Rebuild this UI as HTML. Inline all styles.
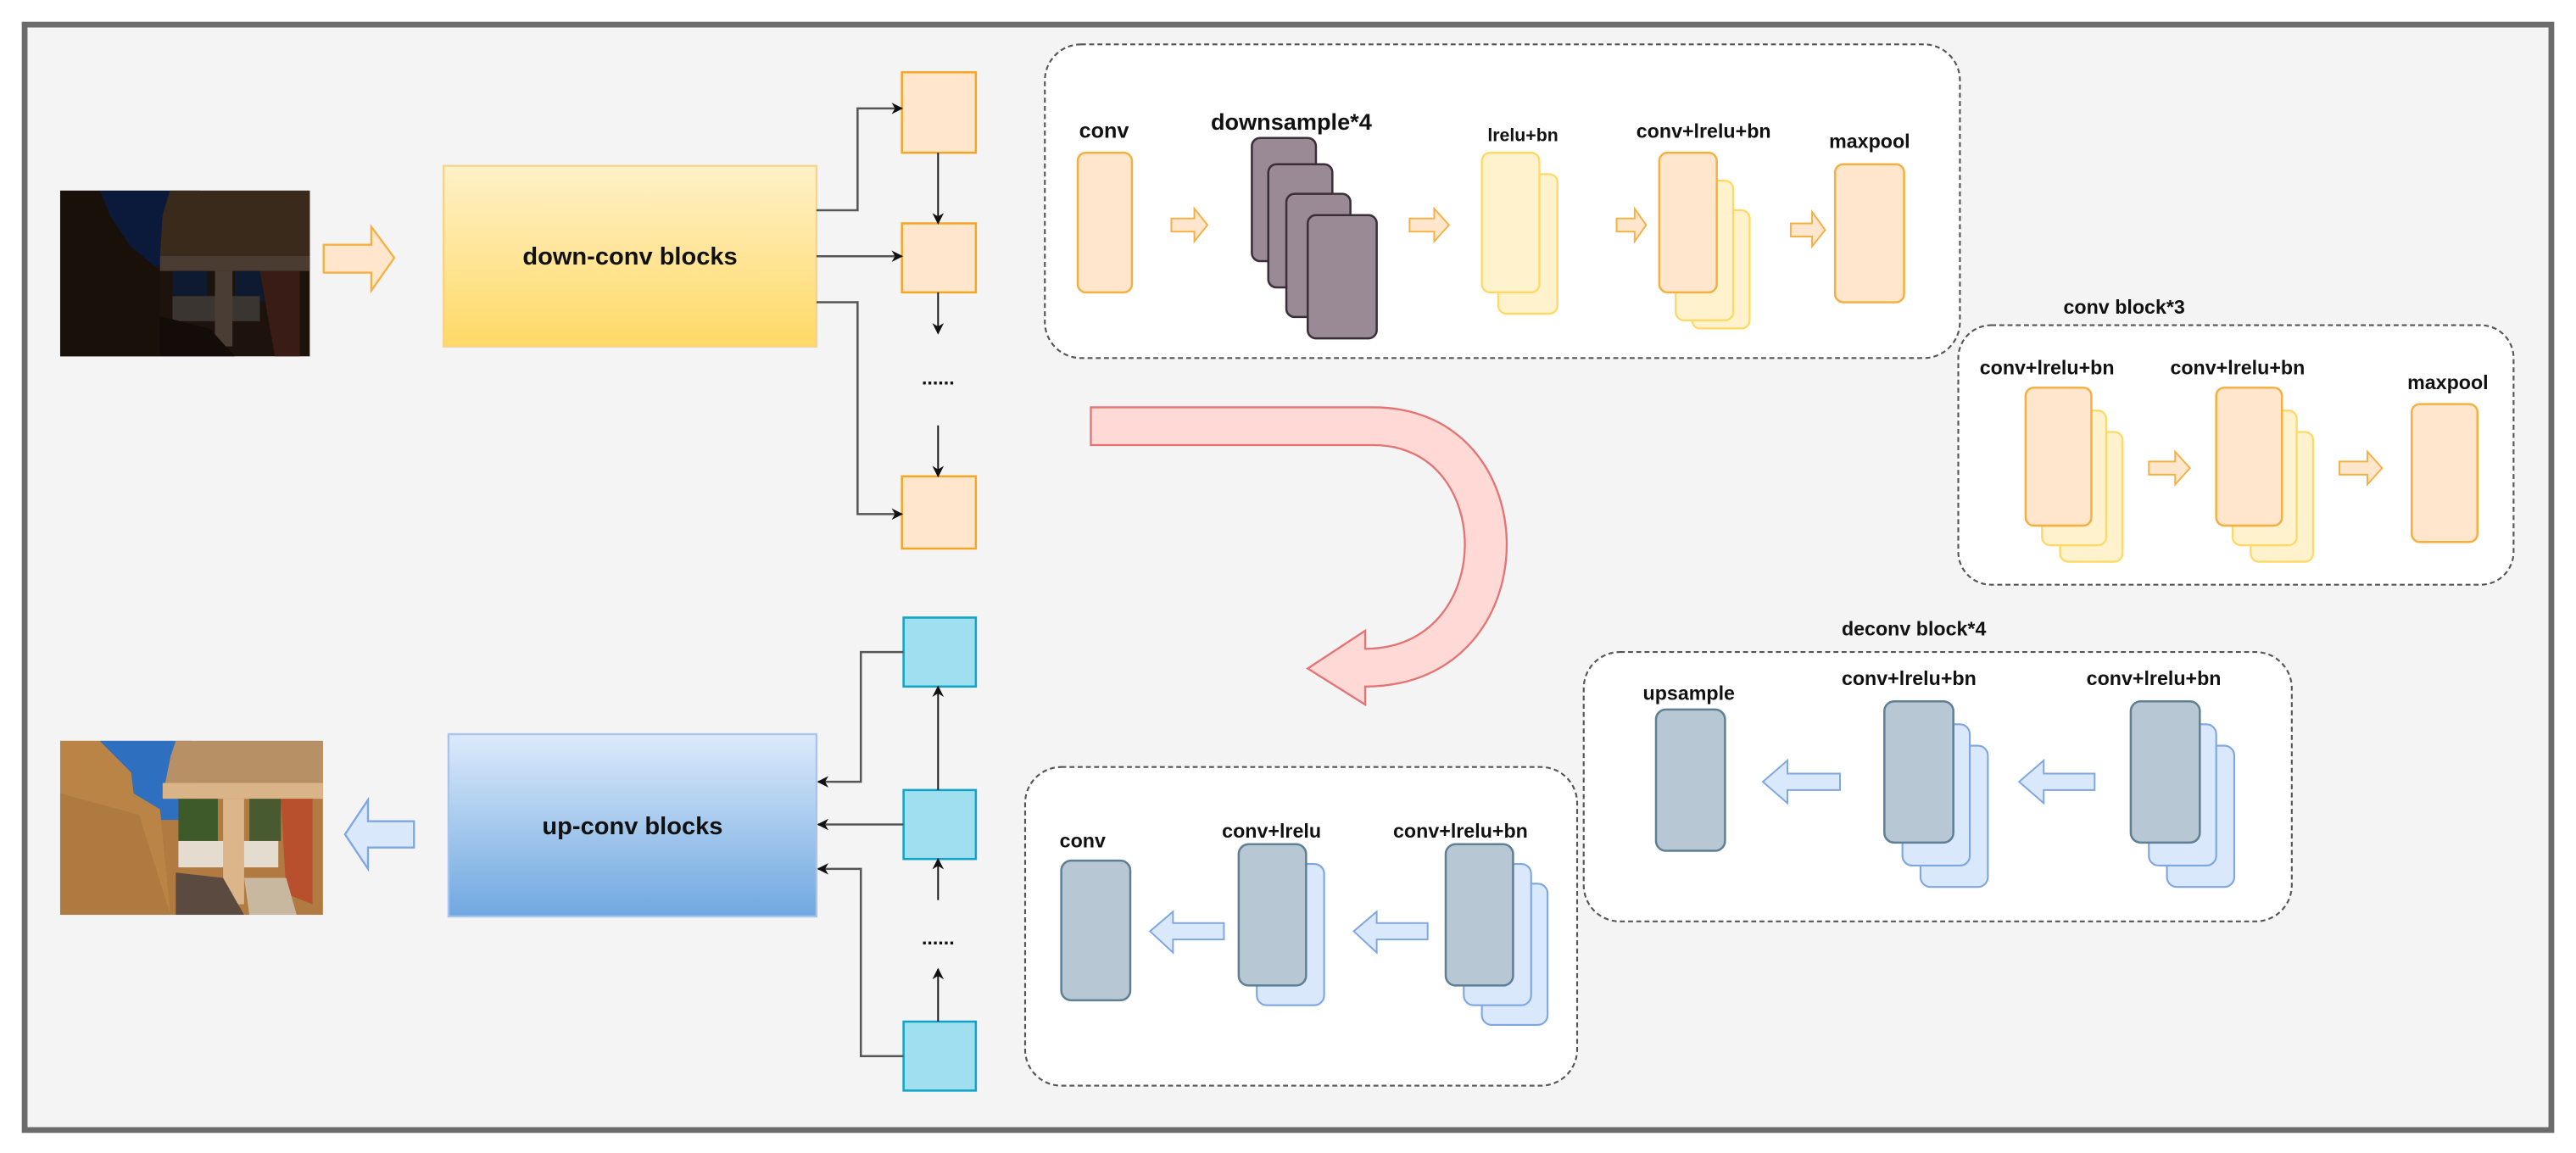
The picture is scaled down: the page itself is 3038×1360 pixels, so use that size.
<!DOCTYPE html>
<html><head><meta charset="utf-8"><style>
html,body{margin:0;padding:0;background:#fff;}
svg{display:block;}
text{font-family:"Liberation Sans",Arial,sans-serif;font-weight:bold;fill:#111;}
</style></head><body>
<svg width="3038" height="1360" viewBox="0 0 1568 702" preserveAspectRatio="none" xmlns="http://www.w3.org/2000/svg">
<defs>
<linearGradient id="gy" x1="0" y1="0" x2="0" y2="1"><stop offset="0" stop-color="#fff1c8"/><stop offset="1" stop-color="#ffd966"/></linearGradient>
<linearGradient id="gb" x1="0" y1="0" x2="0" y2="1"><stop offset="0" stop-color="#dceafb"/><stop offset="1" stop-color="#6fa8e0"/></linearGradient>
<marker id="ah" viewBox="0 0 10 10" refX="9" refY="5" markerWidth="7" markerHeight="7" orient="auto" markerUnits="userSpaceOnUse"><path d="M0,0 L10,5 L0,10 L3,5 z" fill="#111"/></marker>
</defs>
<rect x="0" y="0" width="1568" height="702" fill="#fff"/>
<rect x="15" y="15" width="1538" height="673" fill="#f4f4f4" stroke="#6b6b6b" stroke-width="3.5"/>

<!-- image 1 -->
<svg x="36.6" y="116" width="152" height="101" viewBox="0 0 100 66" preserveAspectRatio="none">
<rect width="100" height="66" fill="#1e120c"/>
<rect x="16" y="0" width="40" height="30" fill="#0b1a3a"/>
<polygon points="0,0 16,0 20,10 28,22 40,32 40,66 0,66" fill="#1a100a"/>
<polygon points="44,0 100,0 100,26 40,26 41,10" fill="#3a2a1c"/>
<rect x="40" y="26" width="60" height="6" fill="#4a3c30"/>
<rect x="45" y="32" width="14" height="10" fill="#0d1a30"/>
<rect x="70" y="32" width="12" height="12" fill="#0d1a30"/>
<rect x="45" y="42" width="35" height="10" fill="#3a3530"/>
<rect x="62" y="32" width="7" height="30" fill="#4a3e34"/>
<polygon points="80,32 96,32 96,66 86,66" fill="#3a1c16"/>
<polygon points="40,50 60,55 70,66 40,66" fill="#140c08"/>
</svg>
<!-- orange hollow arrow -->
<polygon points="197,149 226,149 226,138 240,157 226,177 226,166 197,166" fill="#ffe6cc" stroke="#f5b041" stroke-width="1.2"/>
<!-- down-conv -->
<rect x="270" y="101" width="227" height="110" fill="url(#gy)" stroke="#f5d38a" stroke-width="1.2"/>
<text x="383.5" y="161" font-size="15" text-anchor="middle">down-conv blocks</text>
<!-- orange squares -->
<g fill="#ffe6cc" stroke="#f5a623" stroke-width="1.3">
<rect x="549" y="44" width="45" height="49"/>
<rect x="549" y="136" width="45" height="42"/>
<rect x="549" y="290" width="45" height="44"/>
</g>
<g stroke="#555" stroke-width="1.3" fill="none" marker-end="url(#ah)">
<polyline points="497,128 522,128 522,66 549,66"/>
<polyline points="497,156 549,156"/>
<polyline points="497,184 522,184 522,313 549,313"/>
</g>
<g stroke="#111" stroke-width="1" fill="none" marker-end="url(#ah)">
<line x1="571" y1="93" x2="571" y2="136"/>
<line x1="571" y1="178" x2="571" y2="203"/>
<line x1="571" y1="259" x2="571" y2="290"/>
</g>
<text x="571" y="234" font-size="12" text-anchor="middle">......</text>

<!-- top dashed box -->
<rect x="636" y="27" width="557" height="191" rx="22" fill="#fff" stroke="#555" stroke-width="1.1" stroke-dasharray="3,2"/>
<text x="672" y="84" font-size="13" text-anchor="middle">conv</text>
<rect x="656" y="93" width="33" height="85" rx="5" fill="#ffe6cc" stroke="#f5b041" stroke-width="1.3"/>
<text x="786" y="79" font-size="14" text-anchor="middle">downsample*4</text>
<g fill="#9a8a96" stroke="#3a2f38" stroke-width="1.3">
<rect x="762" y="84" width="39" height="75" rx="5"/>
<rect x="772" y="100" width="39" height="75" rx="5"/>
<rect x="783" y="118" width="39" height="75" rx="5"/>
<rect x="796" y="131" width="42" height="75" rx="5"/>
</g>
<text x="927" y="86" font-size="11" text-anchor="middle" font-weight="normal">lrelu+bn</text>
<rect x="912" y="106" width="36" height="85" rx="5" fill="#fff2cc" stroke="#ffd966" stroke-width="1.2"/>
<rect x="902" y="93" width="35" height="85" rx="5" fill="#fff2cc" stroke="#ffd966" stroke-width="1.2"/>
<text x="1037" y="84" font-size="12" text-anchor="middle">conv+lrelu+bn</text>
<rect x="1030" y="128" width="35" height="72" rx="5" fill="#fff2cc" stroke="#ffd966" stroke-width="1.2"/>
<rect x="1020" y="110" width="35" height="85" rx="5" fill="#fff2cc" stroke="#ffd966" stroke-width="1.2"/>
<rect x="1010" y="93" width="35" height="85" rx="5" fill="#ffe6cc" stroke="#f5b041" stroke-width="1.3"/>
<text x="1138" y="90" font-size="12" text-anchor="middle">maxpool</text>
<rect x="1117" y="100" width="42" height="84" rx="5" fill="#ffe6cc" stroke="#f5b041" stroke-width="1.3"/>
<g fill="#ffe6cc" stroke="#f5b041" stroke-width="1">
<polygon points="713,133 727,133 727,127 735,137 727,147 727,141 713,141"/>
<polygon points="858,133 873,133 873,127 882,137 873,147 873,141 858,141"/>
<polygon points="984,133 995,133 995,127 1002,137 995,147 995,141 984,141"/>
<polygon points="1090,136 1103,136 1103,129 1111,140 1103,150 1103,144 1090,144"/>
</g>

<!-- conv block*3 -->
<text x="1293" y="191" font-size="12" text-anchor="middle">conv block*3</text>
<rect x="1192" y="198" width="338" height="158" rx="20" fill="#fff" stroke="#555" stroke-width="1.1" stroke-dasharray="3,2"/>
<text x="1246" y="228" font-size="12" text-anchor="middle">conv+lrelu+bn</text>
<text x="1362" y="228" font-size="12" text-anchor="middle">conv+lrelu+bn</text>
<text x="1490" y="237" font-size="12" text-anchor="middle">maxpool</text>
<g>
<rect x="1254" y="263" width="38" height="79" rx="5" fill="#fff2cc" stroke="#ffd966" stroke-width="1.2"/>
<rect x="1243" y="250" width="39" height="82" rx="5" fill="#fff2cc" stroke="#ffd966" stroke-width="1.2"/>
<rect x="1233" y="236" width="40" height="84" rx="5" fill="#ffe6cc" stroke="#f5b041" stroke-width="1.3"/>
<rect x="1370" y="263" width="38" height="79" rx="5" fill="#fff2cc" stroke="#ffd966" stroke-width="1.2"/>
<rect x="1359" y="250" width="39" height="82" rx="5" fill="#fff2cc" stroke="#ffd966" stroke-width="1.2"/>
<rect x="1349" y="236" width="40" height="84" rx="5" fill="#ffe6cc" stroke="#f5b041" stroke-width="1.3"/>
<rect x="1468" y="246" width="40" height="84" rx="5" fill="#ffe6cc" stroke="#f5b041" stroke-width="1.3"/>
</g>
<g fill="#ffe6cc" stroke="#f5b041" stroke-width="1">
<polygon points="1308,281 1324,281 1324,275 1333,285 1324,295 1324,289 1308,289"/>
<polygon points="1424,281 1441,281 1441,275 1450,285 1441,295 1441,289 1424,289"/>
</g>

<!-- red curved arrow -->
<path d="M664,248 L836,248 C945,248 945,418 831,418 L831,429 L796,407 L831,384 L831,395 C911,395 911,271 836,271 L664,271 Z" fill="#ffd9d6" stroke="#e57373" stroke-width="1.2"/>

<!-- blue squares -->
<g fill="#9fdfef" stroke="#10a3c8" stroke-width="1.3">
<rect x="550" y="376" width="44" height="42"/>
<rect x="550" y="481" width="44" height="42"/>
<rect x="550" y="622" width="44" height="42"/>
</g>
<g stroke="#555" stroke-width="1.3" fill="none" marker-end="url(#ah)">
<polyline points="550,397 524,397 524,476 498,476"/>
<polyline points="550,502 498,502"/>
<polyline points="550,643 524,643 524,529 498,529"/>
</g>
<g stroke="#111" stroke-width="1" fill="none" marker-end="url(#ah)">
<line x1="571" y1="481" x2="571" y2="418"/>
<line x1="571" y1="548" x2="571" y2="523"/>
<line x1="571" y1="622" x2="571" y2="590"/>
</g>
<text x="571" y="575" font-size="12" text-anchor="middle">......</text>

<!-- up-conv -->
<rect x="273" y="447" width="224" height="111" fill="url(#gb)" stroke="#a9c4eb" stroke-width="1.2"/>
<text x="385" y="508" font-size="15" text-anchor="middle">up-conv blocks</text>
<polygon points="252,500 224,500 224,487 210,508 224,529 224,516 252,516" fill="#dae8fc" stroke="#7ea6e0" stroke-width="1.2"/>

<!-- image 2 -->
<svg x="36.6" y="451" width="160" height="106" viewBox="0 0 100 66" preserveAspectRatio="none">
<rect width="100" height="66" fill="#b07a40"/>
<rect x="15" y="0" width="35" height="30" fill="#2f6fc0"/>
<polygon points="0,0 15,0 27,12 28,20 38,26 42,66 0,66" fill="#b98446"/>
<polygon points="0,20 30,28 42,66 0,66" fill="#a8733c" opacity="0.6"/>
<polygon points="44,0 100,0 100,16 40,16 42,6" fill="#b89066"/>
<rect x="39" y="16" width="61" height="6" fill="#d8b488"/>
<rect x="45" y="22" width="15" height="16" fill="#3f5a2a"/>
<rect x="72" y="22" width="12" height="16" fill="#4a5a30"/>
<rect x="45" y="38" width="38" height="10" fill="#e3dccf"/>
<rect x="62" y="22" width="8" height="40" fill="#dcb58a"/>
<polygon points="84,22 96,22 96,62 86,58" fill="#b8502e"/>
<polygon points="44,50 62,52 70,66 44,66" fill="#5a4a40"/>
<polygon points="70,52 86,52 90,66 72,66" fill="#c8b8a0"/>
</svg>

<!-- bottom dashed box -->
<rect x="624" y="467" width="336" height="194" rx="22" fill="#fff" stroke="#555" stroke-width="1.1" stroke-dasharray="3,2"/>
<text x="659" y="516" font-size="12" text-anchor="middle">conv</text>
<text x="774" y="510" font-size="12" text-anchor="middle">conv+lrelu</text>
<text x="889" y="510" font-size="12" text-anchor="middle">conv+lrelu+bn</text>
<rect x="646" y="524" width="42" height="85" rx="6" fill="#b7c8d4" stroke="#5f7f94" stroke-width="1.3"/>
<rect x="765" y="526" width="41" height="86" rx="6" fill="#dae8fc" stroke="#7ea6e0" stroke-width="1.1"/>
<rect x="754" y="514" width="41" height="86" rx="6" fill="#b7c8d4" stroke="#5f7f94" stroke-width="1.3"/>
<rect x="902" y="538" width="40" height="86" rx="6" fill="#dae8fc" stroke="#7ea6e0" stroke-width="1.1"/>
<rect x="891" y="526" width="41" height="86" rx="6" fill="#dae8fc" stroke="#7ea6e0" stroke-width="1.1"/>
<rect x="880" y="514" width="41" height="86" rx="6" fill="#b7c8d4" stroke="#5f7f94" stroke-width="1.3"/>
<g fill="#dae8fc" stroke="#7ea6e0" stroke-width="1">
<polygon points="745,562 714,562 714,555 700,567 714,580 714,572 745,572"/>
<polygon points="869,562 838,562 838,555 824,567 838,580 838,572 869,572"/>
</g>

<!-- deconv block*4 -->
<text x="1165" y="387" font-size="12" text-anchor="middle">deconv block*4</text>
<rect x="964" y="397" width="431" height="164" rx="22" fill="#fff" stroke="#555" stroke-width="1.1" stroke-dasharray="3,2"/>
<text x="1028" y="426" font-size="12" text-anchor="middle">upsample</text>
<text x="1162" y="417" font-size="12" text-anchor="middle">conv+lrelu+bn</text>
<text x="1311" y="417" font-size="12" text-anchor="middle">conv+lrelu+bn</text>
<rect x="1008" y="432" width="42" height="86" rx="6" fill="#b7c8d4" stroke="#5f7f94" stroke-width="1.3"/>
<rect x="1169" y="454" width="41" height="86" rx="6" fill="#dae8fc" stroke="#7ea6e0" stroke-width="1.1"/>
<rect x="1158" y="441" width="41" height="86" rx="6" fill="#dae8fc" stroke="#7ea6e0" stroke-width="1.1"/>
<rect x="1147" y="427" width="42" height="86" rx="6" fill="#b7c8d4" stroke="#5f7f94" stroke-width="1.3"/>
<rect x="1319" y="454" width="41" height="86" rx="6" fill="#dae8fc" stroke="#7ea6e0" stroke-width="1.1"/>
<rect x="1308" y="441" width="41" height="86" rx="6" fill="#dae8fc" stroke="#7ea6e0" stroke-width="1.1"/>
<rect x="1297" y="427" width="42" height="86" rx="6" fill="#b7c8d4" stroke="#5f7f94" stroke-width="1.3"/>
<g fill="#dae8fc" stroke="#7ea6e0" stroke-width="1">
<polygon points="1120,471 1088,471 1088,463 1073,476 1088,489 1088,481 1120,481"/>
<polygon points="1275,471 1244,471 1244,463 1229,476 1244,489 1244,481 1275,481"/>
</g>
</svg>
</body></html>
